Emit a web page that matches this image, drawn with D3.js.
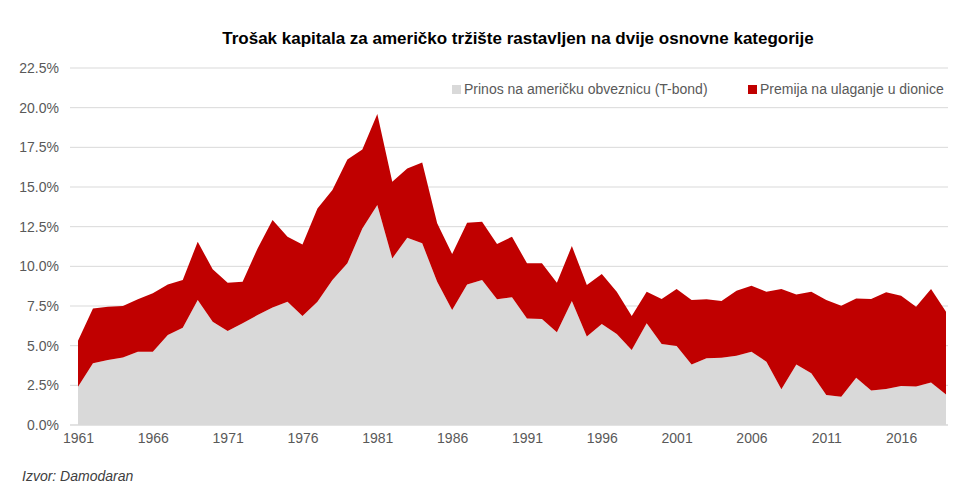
<!DOCTYPE html>
<html><head><meta charset="utf-8">
<script src="https://cdn.jsdelivr.net/npm/d3@7"></script>
<style>body{margin:0;background:#fff;font-family:Arial,"Liberation Sans",sans-serif}</style>
</head><body><svg id="c" width="972" height="500"></svg>
<script>
const years = d3.range(1961, 2020);
const bond = [2.41,3.89,4.10,4.26,4.62,4.62,5.67,6.13,7.88,6.51,5.92,6.41,6.93,7.41,7.77,6.87,7.77,9.14,10.19,12.39,13.86,
10.50,11.80,11.45,9.03,7.25,8.86,9.14,7.92,8.05,6.72,6.68,5.84,7.81,5.57,6.36,5.73,4.73,6.41,5.10,
4.98,3.82,4.20,4.24,4.37,4.62,3.99,2.25,3.82,3.26,1.89,1.78,2.98,2.17,2.27,2.46,2.42,2.68,1.93];
const total = [5.31,7.35,7.46,7.50,7.92,8.30,8.86,9.14,11.55,9.81,8.97,9.03,11.13,12.92,11.87,11.38,13.65,14.81,16.74,17.37,19.60,
15.33,16.17,16.55,12.71,10.77,12.75,12.81,11.41,11.87,10.19,10.20,8.97,11.28,8.82,9.51,8.40,6.87,8.40,7.94,
8.57,7.88,7.92,7.81,8.46,8.78,8.40,8.57,8.23,8.40,7.88,7.52,7.98,7.94,8.36,8.15,7.46,8.57,7.14];
const premium = total.map((t,i)=>+(t-bond[i]).toFixed(2));
const yTicks = [0,2.5,5,7.5,10,12.5,15,17.5,20,22.5];
const seriesNames = ["Prinos na američku obveznicu (T-bond)","Premija na ulaganje u dionice"];
const colors = ["#d9d9d9","#c00000"];

const svg = d3.select("#c");
const x = d3.scaleLinear().domain([1961,2019]).range([78,946]);
const y = d3.scaleLinear().domain([0,22.5]).range([425,68]);
const rows = years.map((yr,i)=>({year:yr,bond:bond[i],premium:premium[i]}));
const stack = d3.stack().keys(["bond","premium"])(rows);

svg.append("text").attr("x",518).attr("y",44).attr("text-anchor","middle")
  .attr("font-size",17).attr("font-weight","bold").attr("fill","#000")
  .text("Trošak kapitala za američko tržište rastavljen na dvije osnovne kategorije");

svg.append("g").selectAll("line").data(yTicks).join("line")
  .attr("x1",70).attr("x2",948).attr("y1",d=>y(d)).attr("y2",d=>y(d))
  .attr("stroke","#d9d9d9").attr("stroke-width",1);

const area = d3.area().x(d=>x(d.data.year)).y0(d=>y(d[0])).y1(d=>y(d[1]));
svg.append("g").selectAll("path").data(stack).join("path")
  .attr("d",area).attr("fill",(d,i)=>colors[i]);

svg.append("line").attr("x1",70).attr("x2",948).attr("y1",y(0)).attr("y2",y(0)).attr("stroke","#d9d9d9");

const ya = svg.append("g").attr("transform","translate(62,0)")
  .call(d3.axisLeft(y).tickValues(yTicks).tickSize(0).tickFormat(d=>d.toFixed(1)+"%"));
ya.select(".domain").remove();
ya.selectAll("text").attr("font-size",14).attr("fill","#595959").attr("font-family","Arial,'Liberation Sans',sans-serif");

const xa = svg.append("g").attr("transform","translate(0,425)")
  .call(d3.axisBottom(x).tickValues(d3.range(1961,2020,5)).tickSize(0).tickFormat(d3.format("d")));
xa.select(".domain").remove();
xa.selectAll("text").attr("font-size",14).attr("fill","#595959").attr("dy","1.1em").attr("font-family","Arial,'Liberation Sans',sans-serif");

const lg = svg.append("g").attr("font-size",14).attr("fill","#595959");
const lx = [452,748];
seriesNames.forEach((n,i)=>{
  lg.append("rect").attr("x",lx[i]).attr("y",85).attr("width",9).attr("height",9).attr("fill",colors[i]);
  lg.append("text").attr("x",lx[i]+12).attr("y",94).attr("fill","#595959").text(n);
});

svg.append("text").attr("x",22).attr("y",481).attr("font-size",14).attr("font-style","italic")
  .attr("fill","#404040").text("Izvor: Damodaran");
</script></body></html>
